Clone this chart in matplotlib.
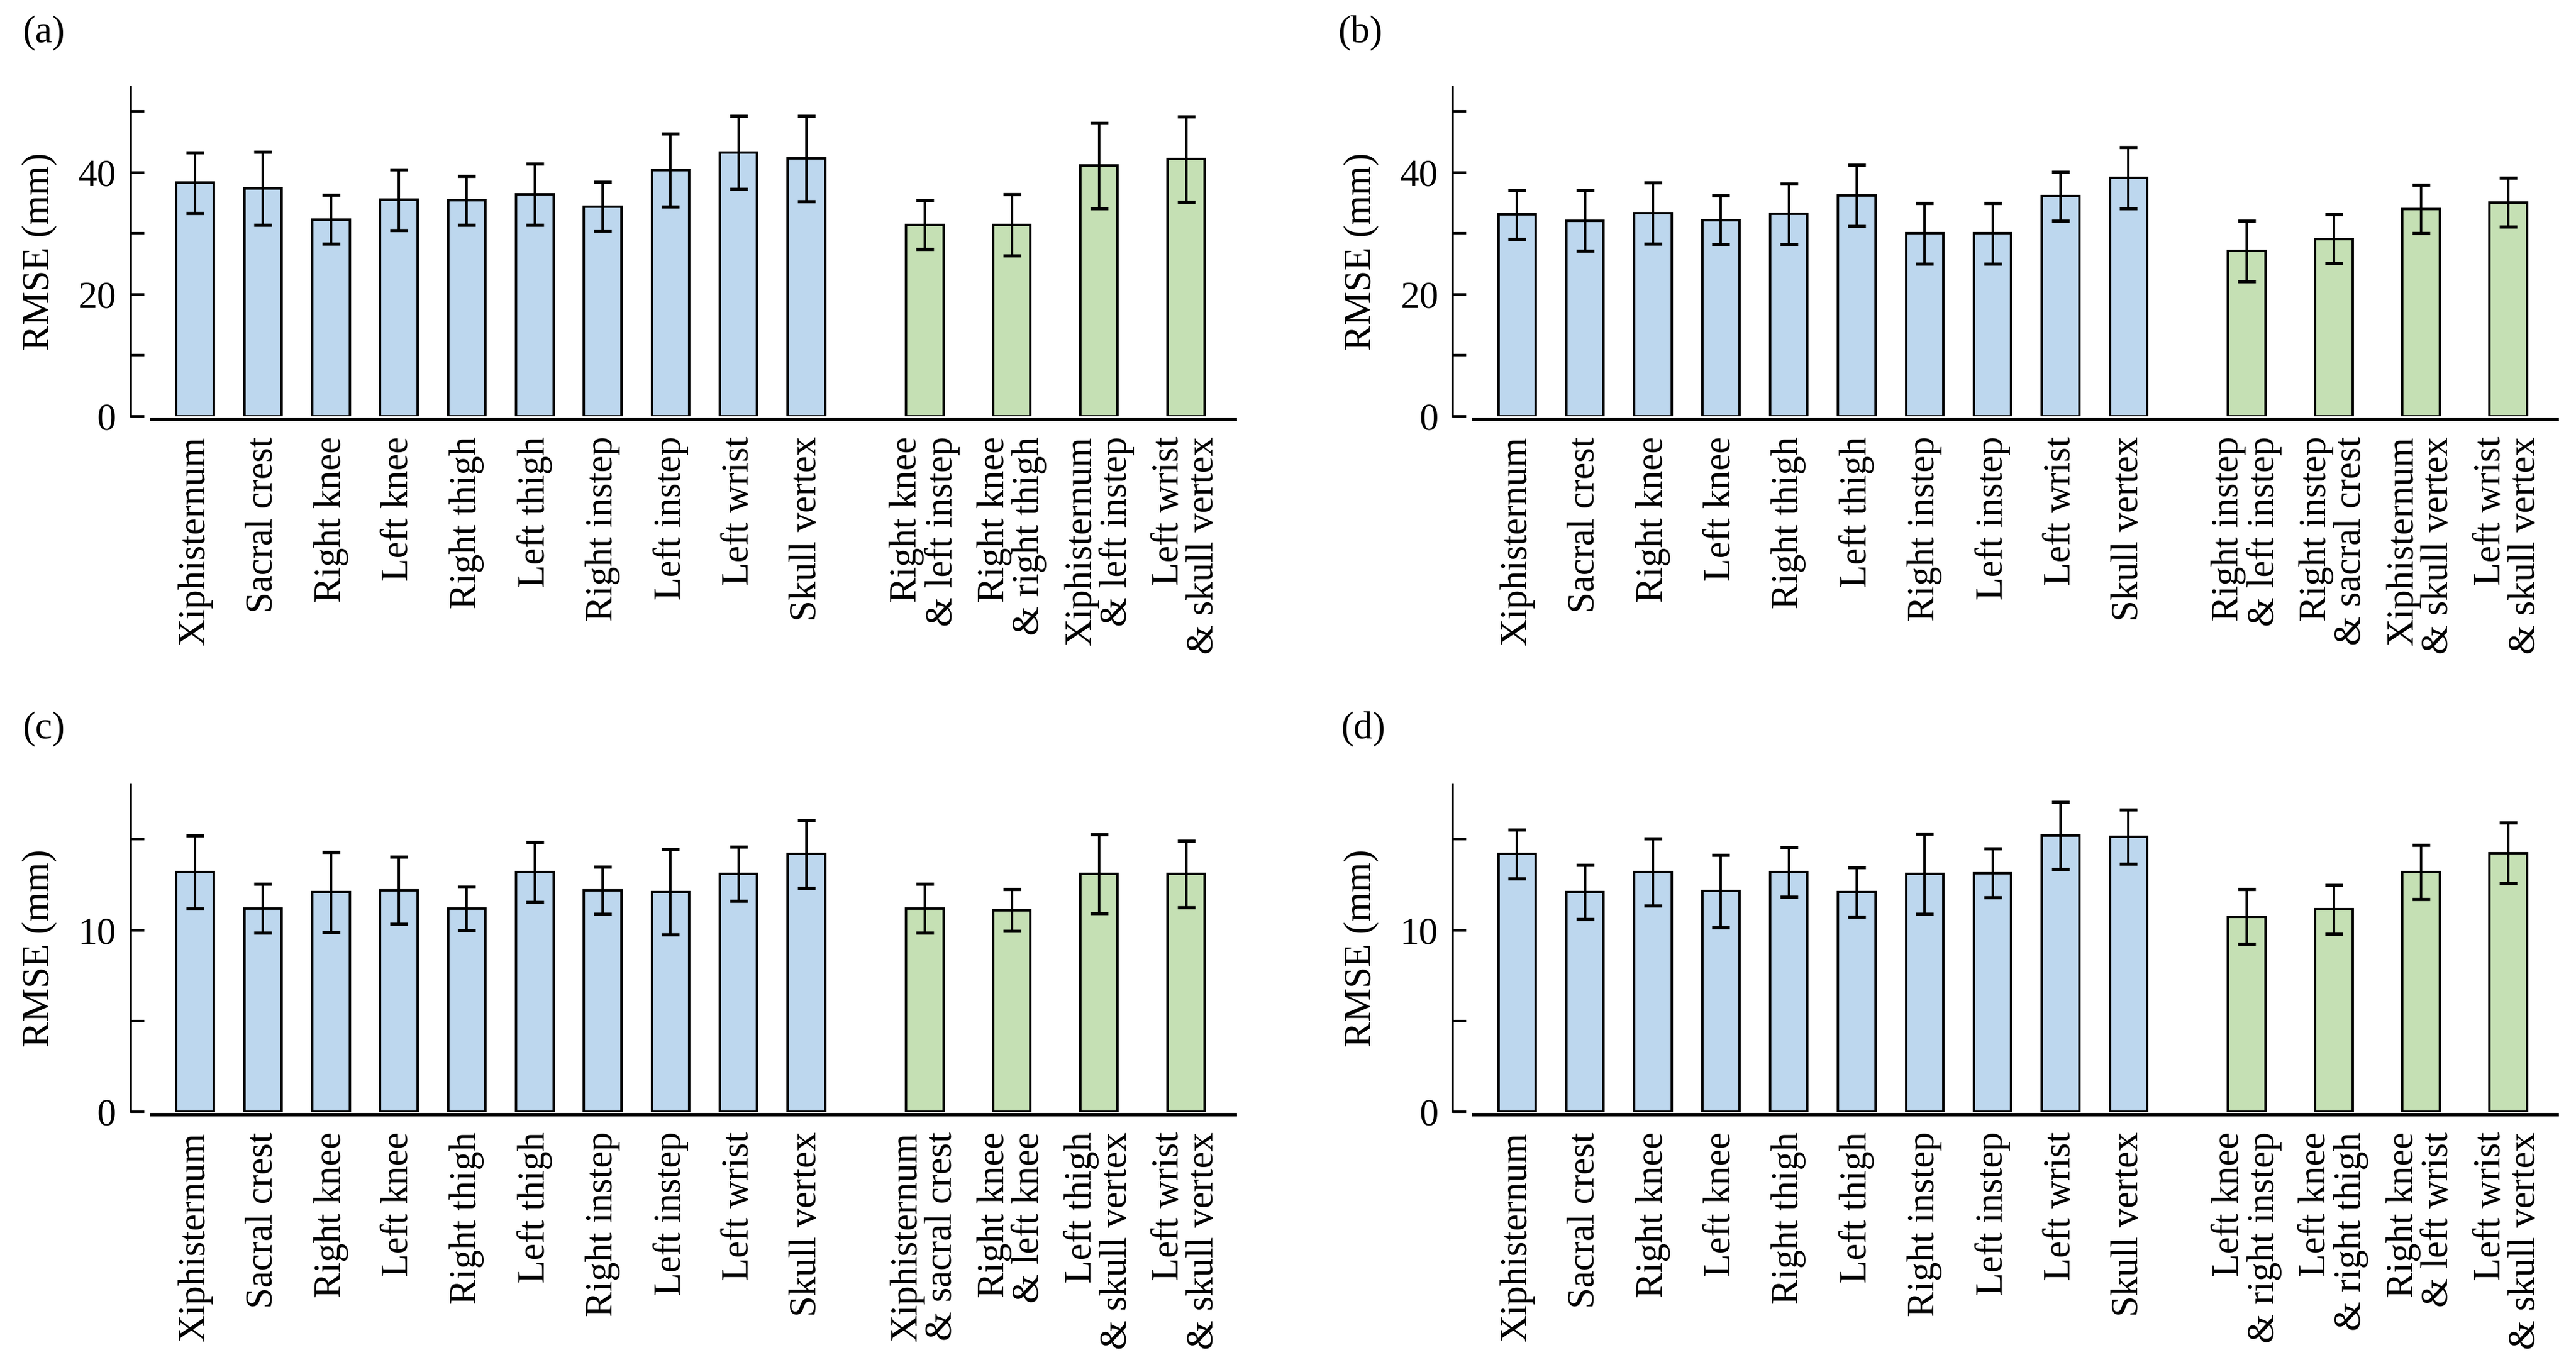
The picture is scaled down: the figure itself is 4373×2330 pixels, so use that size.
import matplotlib
matplotlib.use("Agg")
import matplotlib.pyplot as plt
from matplotlib.ticker import MultipleLocator
import numpy as np

plt.rcParams['font.family'] = ['Liberation Serif', 'DejaVu Serif']
plt.rcParams['font.size'] = 15.5

# single markers (blue bars), same in every panel
single_labels = ['Xiphisternum', 'Sacral crest', 'Right knee', 'Left knee', 'Right thigh',
                 'Left thigh', 'Right instep', 'Left instep', 'Left wrist', 'Skull vertex']

# marker pairs (green bars), one set per panel
pair_labels_a = ['Right knee\n& left instep', 'Right knee\n& right thigh',
                 'Xiphisternum\n& left instep', 'Left wrist\n& skull vertex']
pair_labels_b = ['Right instep\n& left instep', 'Right instep\n& sacral crest',
                 'Xiphisternum\n& skull vertex', 'Left wrist\n& skull vertex']
pair_labels_c = ['Xiphisternum\n& sacral crest', 'Right knee\n& left knee',
                 'Left thigh\n& skull vertex', 'Left wrist\n& skull vertex']
pair_labels_d = ['Left knee\n& right instep', 'Left knee\n& right thigh',
                 'Right knee\n& left wrist', 'Left wrist\n& skull vertex']

# RMSE means and error (mm)
single_a = [38.3, 37.4, 32.3, 35.5, 35.4, 36.4, 34.4, 40.4, 43.3, 42.3]
single_a_err = [5.0, 6.0, 4.0, 5.0, 4.0, 5.0, 4.0, 6.0, 6.0, 7.0]
pair_a = [31.4, 31.4, 41.1, 42.2]
pair_a_err = [4.0, 5.0, 7.0, 7.0]

single_b = [33.1, 32.1, 33.3, 32.2, 33.2, 36.2, 30.0, 30.0, 36.1, 39.1]
single_b_err = [4.0, 5.0, 5.0, 4.0, 5.0, 5.0, 5.0, 5.0, 4.0, 5.0]
pair_b = [27.1, 29.1, 34.0, 35.1]
pair_b_err = [5.0, 4.0, 4.0, 4.0]

single_c = [13.2, 11.2, 12.1, 12.2, 11.2, 13.2, 12.2, 12.1, 13.1, 14.2]
single_c_err = [2.0, 1.35, 2.2, 1.85, 1.2, 1.65, 1.3, 2.35, 1.5, 1.87]
pair_c = [11.2, 11.1, 13.1, 13.1]
pair_c_err = [1.35, 1.15, 2.17, 1.83]

single_d = [14.2, 12.1, 13.2, 12.15, 13.2, 12.1, 13.1, 13.15, 15.2, 15.15]
single_d_err = [1.35, 1.5, 1.85, 2.0, 1.35, 1.35, 2.2, 1.35, 1.85, 1.5]
pair_d = [10.75, 11.15, 13.2, 14.25]
pair_d_err = [1.5, 1.35, 1.5, 1.67]

BLUE = '#BDD7EE'
GREEN = '#C5E0B4'

x_single = np.arange(10)
x_pair = 10.74 + 1.283 * np.arange(4)


def draw_panel(ax, letter, pair_labels, s, s_err, p, p_err, ymax, major, minor):
    ekw = dict(elinewidth=1.0, capthick=1.3, ecolor='black')
    ax.bar(x_single, s, width=0.55, color=BLUE, edgecolor='black', linewidth=1.0,
           yerr=s_err, capsize=3.6, error_kw=ekw, zorder=2)
    ax.bar(x_pair, p, width=0.55, color=GREEN, edgecolor='black', linewidth=1.0,
           yerr=p_err, capsize=3.6, error_kw=ekw, zorder=2)

    ax.set_xlim(-0.634, 15.31)
    ax.set_ylim(0, ymax)

    ax.spines['top'].set_visible(False)
    ax.spines['right'].set_visible(False)
    ax.spines['left'].set_position(('outward', 8.6))
    ax.spines['left'].set_linewidth(0.9)
    ax.spines['bottom'].set_position(('outward', 1.2))
    ax.spines['bottom'].set_linewidth(1.4)

    ax.yaxis.set_major_locator(MultipleLocator(major))
    ax.yaxis.set_minor_locator(MultipleLocator(minor))
    ax.tick_params(axis='y', which='both', direction='in', length=5.5, width=1.0, pad=6)

    ax.set_xticks(list(x_single) + list(x_pair))
    ax.set_xticklabels(single_labels + pair_labels, rotation=90,
                       multialignment='right', linespacing=1.0)
    ax.tick_params(axis='x', length=0, pad=7)

    lab = ax.set_ylabel('RMSE (mm)')
    lab.set_va('center')
    ax.yaxis.set_label_coords(-0.104, 0.5)


fig = plt.figure(figsize=(4373 / 300, 2330 / 300), dpi=300)

ax_a = fig.add_axes([0.0590, 0.6966, 0.4205, 0.2399])
ax_b = fig.add_axes([0.5722, 0.6966, 0.4205, 0.2399])
ax_c = fig.add_axes([0.0590, 0.1897, 0.4205, 0.2382])
ax_d = fig.add_axes([0.5722, 0.1897, 0.4205, 0.2382])

draw_panel(ax_a, 'a', pair_labels_a, single_a, single_a_err, pair_a, pair_a_err, 54, 20, 10)
draw_panel(ax_b, 'b', pair_labels_b, single_b, single_b_err, pair_b, pair_b_err, 54, 20, 10)
draw_panel(ax_c, 'c', pair_labels_c, single_c, single_c_err, pair_c, pair_c_err, 18, 10, 5)
draw_panel(ax_d, 'd', pair_labels_d, single_d, single_d_err, pair_d, pair_d_err, 18, 10, 5)

# panel letters
fig.text(0.0087, 0.976, '(a)', va='center', ha='left')
fig.text(0.5193, 0.976, '(b)', va='center', ha='left')
fig.text(0.0087, 0.4687, '(c)', va='center', ha='left')
fig.text(0.5205, 0.4687, '(d)', va='center', ha='left')

fig.savefig('out.png', dpi=300)
